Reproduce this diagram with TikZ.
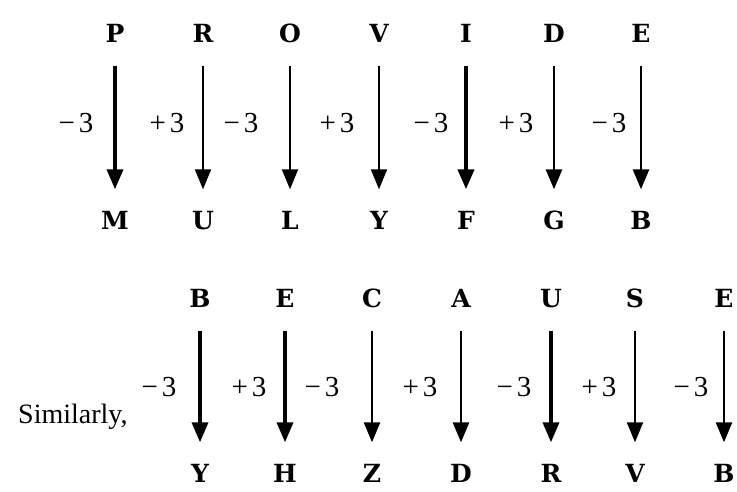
\documentclass[tikz,border=0pt]{standalone}
\usepackage{fontspec}
\setmainfont{Liberation Serif}
\newfontfamily\letterfont{DejaVu Serif}
\usetikzlibrary{arrows.meta}

\tikzset{
  letter/.style={font=\letterfont\bfseries\fontsize{25}{25}\selectfont, text height=19pt, text depth=0pt, inner sep=0pt},
  shiftlbl/.style={font=\fontsize{29}{29}\selectfont, inner sep=0pt},
  codearrow/.style={-{Triangle[length=20pt,width=16pt]}, shorten <=23pt, shorten >=21pt},
  heavy/.style={codearrow, line width=3.6pt},
  medium/.style={codearrow, line width=2.8pt},
  light/.style={codearrow, line width=2pt}
}
\newcommand{\mn}{\char"2212\kern4pt 3}
\newcommand{\pl}{+\kern4pt 3}

\begin{document}
\begin{tikzpicture}[x={(1pt,0)}, y={(0,-1pt)}]
  \useasboundingbox (0,0) rectangle (737,491);
  % PROVIDE -> MULYFGB
  \node[letter] (a1) at (115,33) {P}; \node[letter] (b1) at (115,220) {M};
  \node[letter] (a2) at (203,33) {R}; \node[letter] (b2) at (203,220) {U};
  \node[letter] (a3) at (290,33) {O}; \node[letter] (b3) at (290,220) {L};
  \node[letter] (a4) at (379,33) {V}; \node[letter] (b4) at (379,220) {Y};
  \node[letter] (a5) at (466,33) {I}; \node[letter] (b5) at (466,220) {F};
  \node[letter] (a6) at (554,33) {D}; \node[letter] (b6) at (554,220) {G};
  \node[letter] (a7) at (641,33) {E}; \node[letter] (b7) at (641,220) {B};
  \draw[heavy] (a1) -- (b1);
  \draw[light] (a2) -- (b2);
  \draw[light] (a3) -- (b3);
  \draw[light] (a4) -- (b4);
  \draw[line width=4.2pt, codearrow] (a5) -- (b5);
  \draw[medium] (a6) -- (b6);
  \draw[medium] (a7) -- (b7);
  \node[shiftlbl] (l1) at (76,123) {\mn};
  \node[shiftlbl] (l2) at (167,123) {\pl};
  \node[shiftlbl] (l3) at (241,123) {\mn};
  \node[shiftlbl] (l4) at (337,123) {\pl};
  \node[shiftlbl] (l5) at (431,123) {\mn};
  \node[shiftlbl] (l6) at (516,123) {\pl};
  \node[shiftlbl] (l7) at (609,123) {\mn};
  % BECAUSE -> YHZDRVB
  \node[font=\fontsize{28}{28}\selectfont, inner sep=0pt, anchor=base west] (sim) at (18,423) {Similarly,};
  \node[letter] (c1) at (200,298) {B}; \node[letter] (d1) at (200,473) {Y};
  \node[letter] (c2) at (285,298) {E}; \node[letter] (d2) at (285,473) {H};
  \node[letter] (c3) at (372,298) {C}; \node[letter] (d3) at (372,473) {Z};
  \node[letter] (c4) at (461,298) {A}; \node[letter] (d4) at (461,473) {D};
  \node[letter] (c5) at (551,298) {U}; \node[letter] (d5) at (551,473) {R};
  \node[letter] (c6) at (635,298) {S}; \node[letter] (d6) at (635,473) {V};
  \node[letter] (c7) at (724,298) {E}; \node[letter] (d7) at (724,473) {B};
  \begin{scope}[every path/.append style={shorten >=14pt}]
  \draw[heavy] (c1) -- (d1);
  \draw[heavy] (c2) -- (d2);
  \draw[medium] (c3) -- (d3);
  \draw[medium] (c4) -- (d4);
  \draw[heavy] (c5) -- (d5);
  \draw[light] (c6) -- (d6);
  \draw[medium] (c7) -- (d7);
  \end{scope}
  \node[shiftlbl] (k1) at (159,387) {\mn};
  \node[shiftlbl] (k2) at (249,387) {\pl};
  \node[shiftlbl] (k3) at (322,387) {\mn};
  \node[shiftlbl] (k4) at (420,387) {\pl};
  \node[shiftlbl] (k5) at (514,387) {\mn};
  \node[shiftlbl] (k6) at (599,387) {\pl};
  \node[shiftlbl] (k7) at (691,387) {\mn};
\end{tikzpicture}
\end{document}
